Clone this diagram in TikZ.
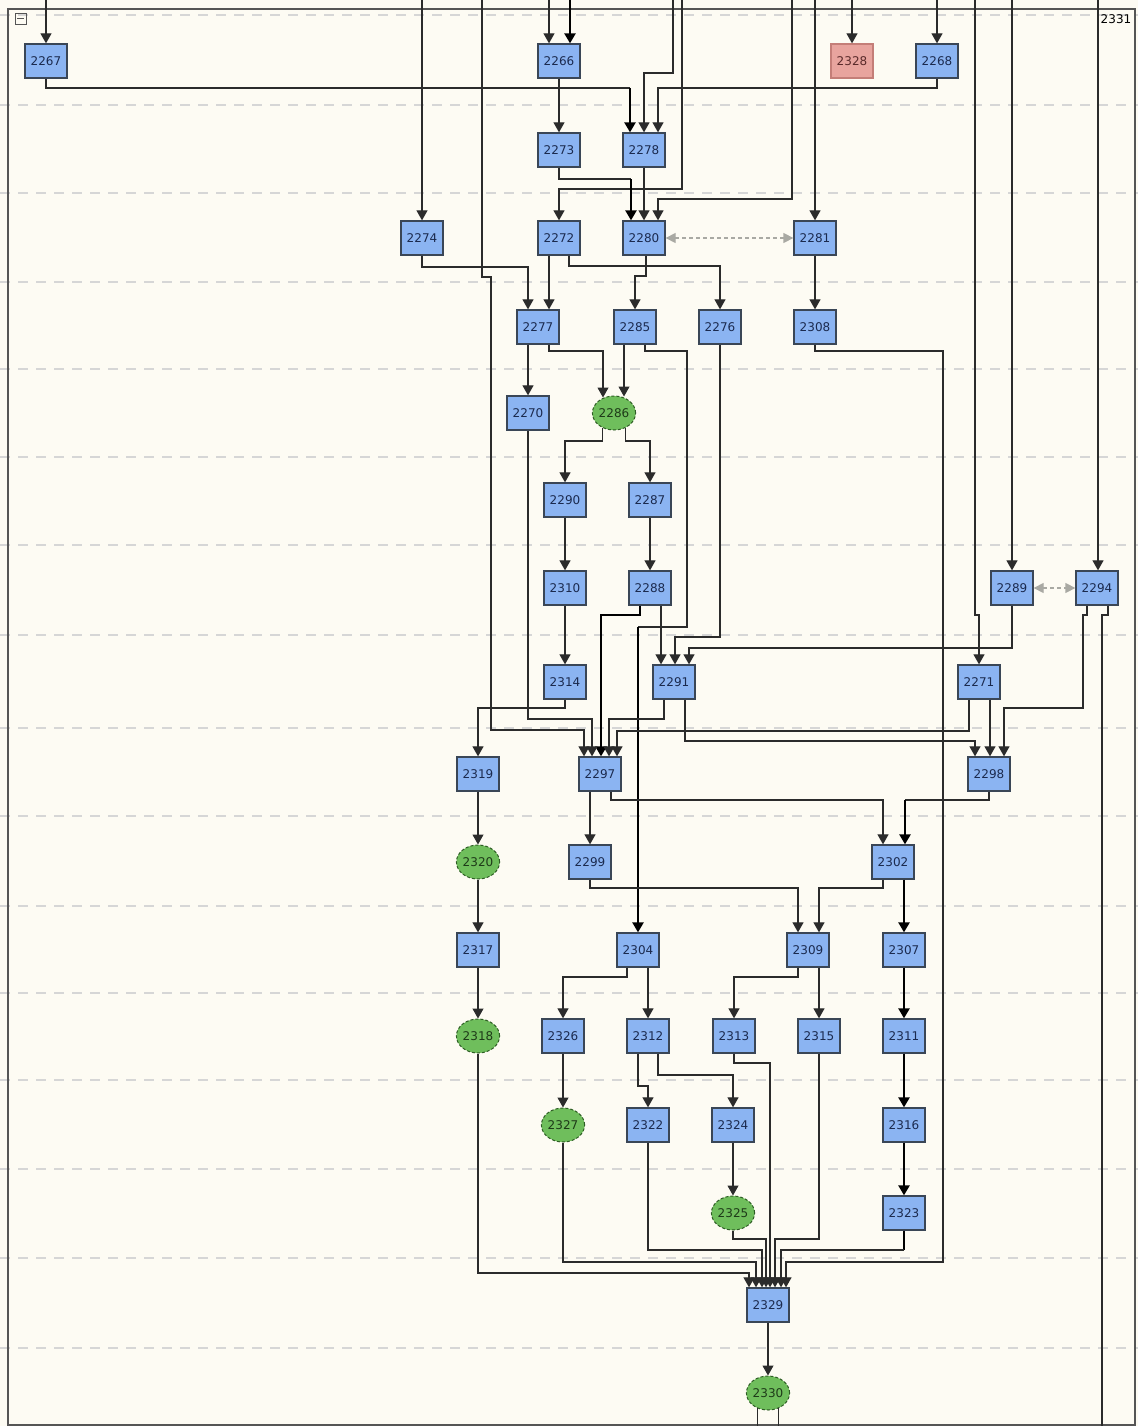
\documentclass[tikz,border=0pt]{standalone}
\usepackage{fontspec}
\setmainfont{DejaVu Sans}
\usetikzlibrary{arrows.meta,shapes.geometric}
\definecolor{bgcol}{HTML}{FDFBF3}
\definecolor{boxfill}{HTML}{8BB4F2}
\definecolor{boxborder}{HTML}{3A4656}
\definecolor{boxtext}{HTML}{1B2A4E}
\definecolor{pinkfill}{HTML}{E8A49E}
\definecolor{pinkborder}{HTML}{C47E78}
\definecolor{pinktext}{HTML}{5A2A2A}
\definecolor{ovalfill}{HTML}{6FBE5C}
\definecolor{ovalborder}{HTML}{2F5E25}
\definecolor{ovaltext}{HTML}{1E3A18}
\definecolor{edgecol}{HTML}{2B2B2B}
\definecolor{gridcol}{HTML}{D6D6D6}
\definecolor{framecol}{HTML}{555555}
\definecolor{assoccol}{HTML}{A9A9A3}
\newcommand\mylabfont{\fontsize{12}{12}\selectfont}
\tikzset{
  box/.style={rectangle, draw=boxborder, line width=1.3pt, fill=boxfill, minimum width=42pt, minimum height=34pt, inner sep=0pt, font=\mylabfont, text=boxtext},
  pinkbox/.style={box, draw=pinkborder, fill=pinkfill, text=pinktext},
  oval/.style={ellipse, draw=ovalborder, dash pattern=on 3pt off 2pt, line width=1pt, fill=ovalfill, minimum width=42pt, minimum height=34pt, inner sep=0pt, font=\mylabfont, text=ovaltext},
  edge/.style={draw=edgecol, line width=1.1pt, -{Triangle[width=11pt,length=10pt]}},
  plainline/.style={draw=edgecol, line width=1.1pt},
  thk/.style={line width=2.4pt, draw=black},
  bidir/.style={draw=assoccol, line width=1.3pt, dash pattern=on 4pt off 3pt, {Triangle[width=10pt,length=10pt]}-{Triangle[width=10pt,length=10pt]}},
  gridline/.style={draw=gridcol, line width=1.5pt, dash pattern=on 10pt off 8pt},
}
\begin{document}
\begin{tikzpicture}[x=1pt,y=-1pt]
\useasboundingbox (0,0) rectangle (1138,1426);
\fill[bgcol] (0,0) rectangle (1138,1426);
\foreach \gy in {15,105,193,282,369,457,545,635,728,816,906,993,1080,1169,1258,1348}
  \draw[gridline] (0,\gy) -- (1138,\gy);
\draw[framecol, line width=1.2pt] (8,9) rectangle (1135,1425);
\node[draw=framecol, minimum size=11pt, inner sep=0pt, line width=0.8pt] (collapse) at (20.5,18.5) {};
\draw[framecol, line width=0.8pt] ([xshift=2.5pt]collapse.west) -- ([xshift=-2.5pt]collapse.east);
\node[font=\mylabfont, text=black] (lbl2331) at (1116,19) {2331};

% nodes
\node[box] (n2267) at (46,61) {2267};
\node[box] (n2266) at (559,61) {2266};
\node[pinkbox] (n2328) at (852,61) {2328};
\node[box] (n2268) at (937,61) {2268};
\node[box] (n2273) at (559,150) {2273};
\node[box] (n2278) at (644,150) {2278};
\node[box] (n2274) at (422,238) {2274};
\node[box] (n2272) at (559,238) {2272};
\node[box] (n2280) at (644,238) {2280};
\node[box] (n2281) at (815,238) {2281};
\node[box] (n2277) at (538,327) {2277};
\node[box] (n2285) at (635,327) {2285};
\node[box] (n2276) at (720,327) {2276};
\node[box] (n2308) at (815,327) {2308};
\node[box] (n2270) at (528,413) {2270};
\node[oval] (n2286) at (614,413) {2286};
\node[box] (n2290) at (565,500) {2290};
\node[box] (n2287) at (650,500) {2287};
\node[box] (n2310) at (565,588) {2310};
\node[box] (n2288) at (650,588) {2288};
\node[box] (n2289) at (1012,588) {2289};
\node[box] (n2294) at (1097,588) {2294};
\node[box] (n2314) at (565,682) {2314};
\node[box] (n2291) at (674,682) {2291};
\node[box] (n2271) at (979,682) {2271};
\node[box] (n2319) at (478,774) {2319};
\node[box] (n2297) at (600,774) {2297};
\node[box] (n2298) at (989,774) {2298};
\node[oval] (n2320) at (478,862) {2320};
\node[box] (n2299) at (590,862) {2299};
\node[box] (n2302) at (893,862) {2302};
\node[box] (n2317) at (478,950) {2317};
\node[box] (n2304) at (638,950) {2304};
\node[box] (n2309) at (808,950) {2309};
\node[box] (n2307) at (904,950) {2307};
\node[oval] (n2318) at (478,1036) {2318};
\node[box] (n2326) at (563,1036) {2326};
\node[box] (n2312) at (648,1036) {2312};
\node[box] (n2313) at (734,1036) {2313};
\node[box] (n2315) at (819,1036) {2315};
\node[box] (n2311) at (904,1036) {2311};
\node[oval] (n2327) at (563,1125) {2327};
\node[box] (n2322) at (648,1125) {2322};
\node[box] (n2324) at (733,1125) {2324};
\node[box] (n2316) at (904,1125) {2316};
\node[oval] (n2325) at (733,1213) {2325};
\node[box] (n2323) at (904,1213) {2323};
\node[box] (n2329) at (768,1305) {2329};
\node[oval] (n2330) at (768,1393) {2330};

% free ends
\coordinate (in1) at (46,0);
\coordinate (in2) at (422,0);
\coordinate (in3) at (482,0);
\coordinate (in4) at (549,0);
\coordinate (in5) at (570,0);
\coordinate (in6) at (673,0);
\coordinate (in7) at (682,0);
\coordinate (in8) at (792,0);
\coordinate (in9) at (815,0);
\coordinate (in10) at (852,0);
\coordinate (in11) at (937,0);
\coordinate (in12) at (975,0);
\coordinate (in13) at (1012,0);
\coordinate (in14) at (1098,0);
\coordinate (out1) at (1102,1426);
\coordinate (out2) at (757,1426);
\coordinate (out3) at (779,1426);
\coordinate (j1) at (630,88);
\coordinate (j2) at (631,179);
\coordinate (j3) at (638,627);
\coordinate (j4) at (905,800);
\coordinate (j5) at (904,1250);

% incoming from above
\draw[edge] (in1) -- (n2267.north);
\draw[edge] (in2) -- (n2274.north);
\draw[edge] (in3) |- (491,277) |- (584,730) -- (584,0 |- n2297.north);
\draw[edge] (in4) -- (549,0 |- n2266.north);
\draw[edge,thk] (in5) -- (570,0 |- n2266.north);
\draw[edge] (in6) |- (644,73) -- (644,0 |- n2278.north);
\draw[edge] (in7) |- (559,189) -- (n2272.north);
\draw[edge] (in8) |- (658,199) -- (658,0 |- n2280.north);
\draw[edge] (in9) -- (n2281.north);
\draw[edge] (in10) -- (n2328.north);
\draw[edge] (in11) -- (n2268.north);
\draw[edge] (in12) |- (979,615) -- (n2271.north);
\draw[edge] (in13) -- (n2289.north);
\draw[edge] (in14) -- (1098,0 |- n2294.north);

% internal connectors
\draw[plainline] (n2267.south) |- (j1);
\draw[edge,thk] (j1) -- (630,0 |- n2278.north);
\draw[edge] (n2268.south) |- (658,88) -- (658,0 |- n2278.north);
\draw[edge] (n2266.south) -- (n2273.north);
\draw[plainline] (n2273.south) |- (j2);
\draw[edge,thk] (j2) -- (631,0 |- n2280.north);
\draw[edge] (n2278.south) -- (n2280.north);
\draw[bidir] (n2280.east) -- (n2281.west);
\draw[edge] (n2274.south) |- (528,267) -- (528,0 |- n2277.north);
\draw[edge] (549,0 |- n2272.south) -- (549,0 |- n2277.north);
\draw[edge] (569,0 |- n2272.south) |- (720,266) -- (n2276.north);
\draw[edge] (646,0 |- n2280.south) |- (635,276) -- (n2285.north);
\draw[edge] (n2281.south) -- (n2308.north);
\draw[edge] (528,0 |- n2277.south) -- (n2270.north);
\draw[edge, shorten >=-2pt] (549,0 |- n2277.south) |- (603,351) -- (603,0 |- n2286.north);
\draw[edge, shorten >=-1pt] (624,0 |- n2285.south) -- (624,0 |- n2286.north);
\draw[plainline] (645,0 |- n2285.south) |- (687,351) |- (j3);
\draw[edge,thk] (j3) -- (n2304.north);
\draw[edge] (n2286.-128) |- (565,441) -- (n2290.north);
\draw[edge] (n2286.-52) |- (650,441) -- (n2287.north);
\draw[edge] (n2290.south) -- (n2310.north);
\draw[edge] (n2287.south) -- (n2288.north);
\draw[edge] (n2310.south) -- (n2314.north);
\draw[edge,thk] (640,0 |- n2288.south) |- (601,615) -- (601,0 |- n2297.north);
\draw[edge] (661,0 |- n2288.south) -- (661,0 |- n2291.north);
\draw[edge] (n2276.south) |- (675,637) -- (675,0 |- n2291.north);
\draw[edge] (n2289.south) |- (689,648) -- (689,0 |- n2291.north);
\draw[bidir] (n2289.east) -- (n2294.west);
\draw[edge] (n2270.south) |- (592,719) -- (592,0 |- n2297.north);
\draw[edge] (n2314.south) |- (478,708) -- (n2319.north);
\draw[edge] (664,0 |- n2291.south) |- (609,719) -- (609,0 |- n2297.north);
\draw[edge] (685,0 |- n2291.south) |- (975,741) -- (975,0 |- n2298.north);
\draw[edge] (969,0 |- n2271.south) |- (617,731) -- (617,0 |- n2297.north);
\draw[edge] (990,0 |- n2271.south) -- (990,0 |- n2298.north);
\draw[edge] (1087,0 |- n2294.south) |- (1083,615) |- (1004,708) -- (1004,0 |- n2298.north);
\draw[plainline] (1108,0 |- n2294.south) |- (1102,615) -- (out1);
\draw[edge] (n2308.south) |- (943,351) |- (786,1262) -- (786,0 |- n2329.north);
\draw[edge] (n2319.south) -- (n2320.north);
\draw[edge] (590,0 |- n2297.south) -- (n2299.north);
\draw[edge] (611,0 |- n2297.south) |- (883,800) -- (883,0 |- n2302.north);
\draw[plainline] (n2298.south) |- (j4);
\draw[edge,thk] (j4) -- (905,0 |- n2302.north);
\draw[edge] (n2320.south) -- (n2317.north);
\draw[edge] (n2299.south) |- (798,888) -- (798,0 |- n2309.north);
\draw[edge] (883,0 |- n2302.south) |- (819,888) -- (819,0 |- n2309.north);
\draw[edge,thk] (904,0 |- n2302.south) -- (n2307.north);
\draw[edge] (n2317.south) -- (n2318.north);
\draw[edge] (627,0 |- n2304.south) |- (563,977) -- (n2326.north);
\draw[edge] (648,0 |- n2304.south) -- (n2312.north);
\draw[edge] (798,0 |- n2309.south) |- (734,977) -- (n2313.north);
\draw[edge] (819,0 |- n2309.south) -- (n2315.north);
\draw[edge,thk] (n2307.south) -- (n2311.north);
\draw[edge] (n2326.south) -- (n2327.north);
\draw[edge] (638,0 |- n2312.south) |- (648,1086) -- (n2322.north);
\draw[edge] (658,0 |- n2312.south) |- (733,1075) -- (n2324.north);
\draw[edge,thk] (n2311.south) -- (n2316.north);
\draw[edge] (n2324.south) -- (n2325.north);
\draw[edge,thk] (n2316.south) -- (n2323.north);
\draw[edge] (n2318.south) |- (749,1273) -- (749,0 |- n2329.north);
\draw[edge] (n2327.south) |- (756,1262) -- (756,0 |- n2329.north);
\draw[edge] (n2322.south) |- (762,1250) -- (762,0 |- n2329.north);
\draw[edge] (n2325.south) |- (766,1239) -- (766,0 |- n2329.north);
\draw[edge] (n2313.south) |- (770,1063) -- (770,0 |- n2329.north);
\draw[edge] (n2315.south) |- (775,1239) -- (775,0 |- n2329.north);
\draw[plainline, thk] (n2323.south) -- (j5);
\draw[edge] (j5) -| (781,0 |- n2329.north);
\draw[edge] (n2329.south) -- (n2330.north);
\draw[plainline] (n2330.-125) -- (n2330.-125 |- out2);
\draw[plainline] (n2330.-55) -- (n2330.-55 |- out3);
\end{tikzpicture}
\end{document}
